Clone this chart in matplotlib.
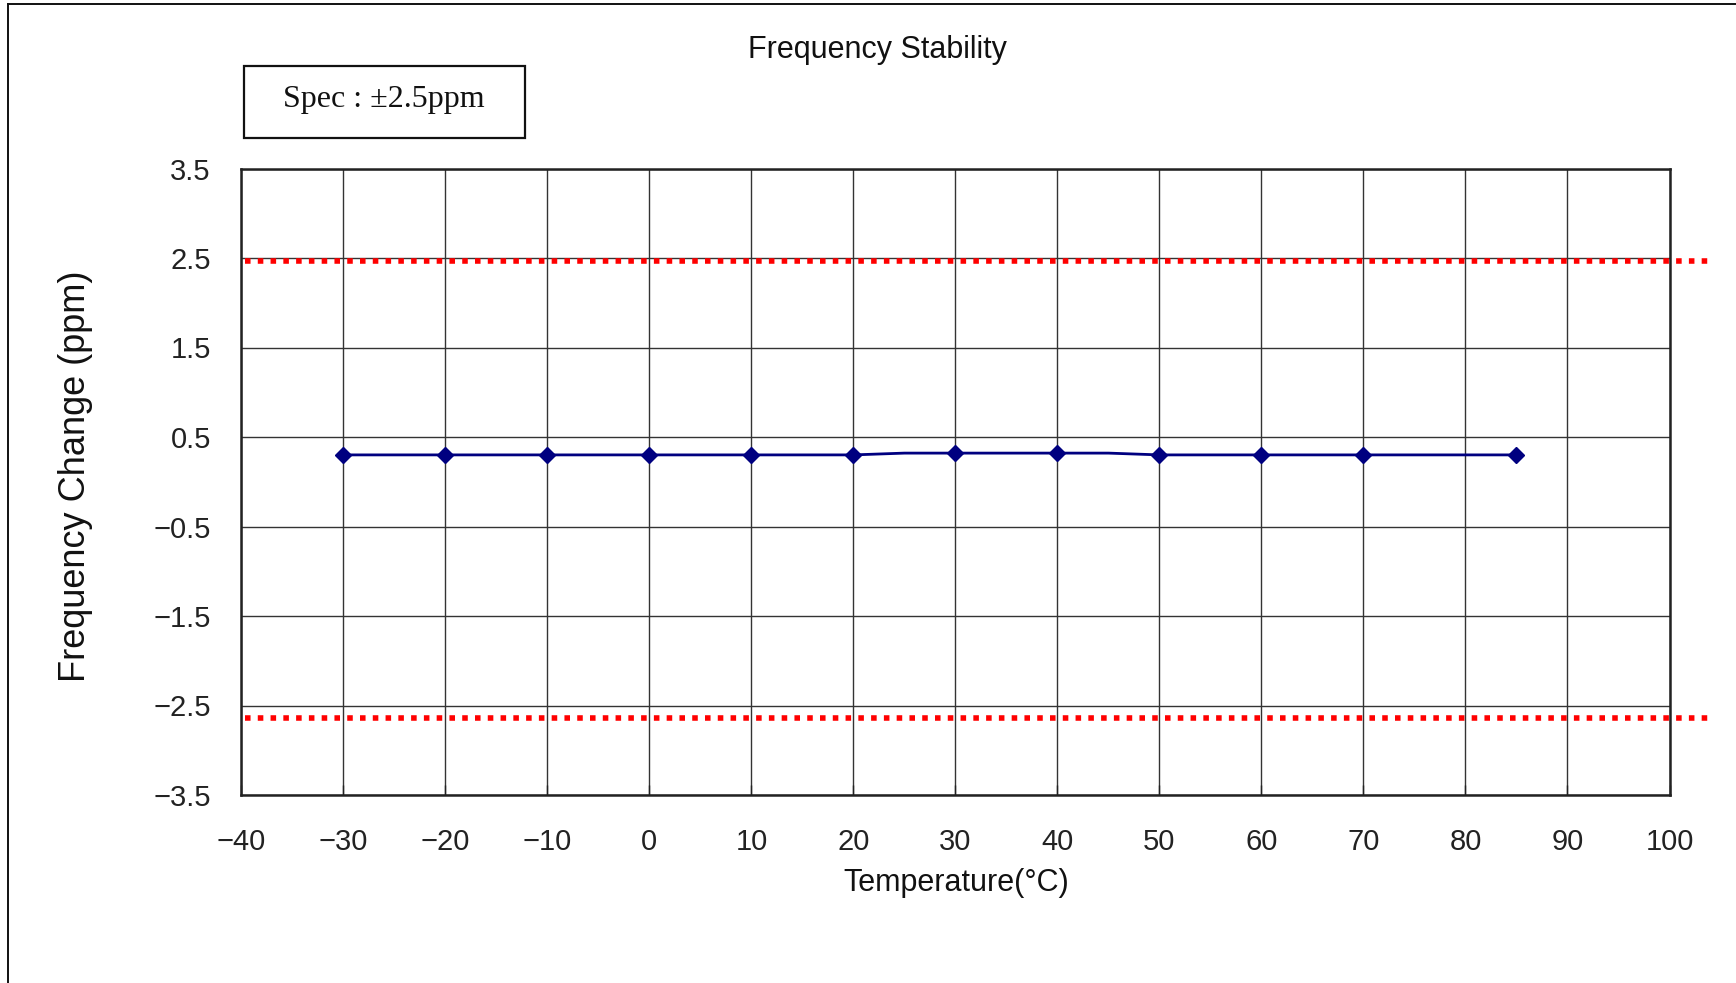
import matplotlib
matplotlib.use("Agg")
import matplotlib.pyplot as plt
from matplotlib.lines import Line2D
from matplotlib.patches import Rectangle

# data
temps = [-30, -20, -10, 0, 10, 20, 25, 30, 40, 45, 50, 60, 70, 85]
freq_change = [0.30, 0.30, 0.30, 0.30, 0.30, 0.30, 0.32, 0.32, 0.32, 0.32,
               0.30, 0.30, 0.30, 0.30]
marker_idx = [0, 1, 2, 3, 4, 5, 7, 8, 10, 11, 12, 13]
spec_limits = [2.47, -2.64]
x_ticks = list(range(-40, 101, 10))
y_ticks = [-3.5, -2.5, -1.5, -0.5, 0.5, 1.5, 2.5, 3.5]

W, H = 1736, 983
sans = ["Liberation Sans Narrow", "Liberation Sans", "DejaVu Sans"]

fig = plt.figure(figsize=(W / 100, H / 100), dpi=100)
ax = fig.add_axes([241.4 / W, 1 - 795 / H, (1669.5 - 241.4) / W, (795 - 168.5) / H])

ax.set_xlim(-40, 100)
ax.set_ylim(-3.5, 3.5)
ax.set_xticks(x_ticks)
ax.set_yticks(y_ticks)
ax.set_xticklabels([f"{t:d}".replace("-", "\u2212") for t in x_ticks],
                   family=sans, fontsize=21)
ax.set_yticklabels([f"{t:.1f}".replace("-", "\u2212") for t in y_ticks],
                   family=sans, fontsize=21)
ax.tick_params(axis="x", direction="in", length=7, width=1, pad=24, colors="#222222")
ax.tick_params(axis="y", direction="in", length=0, pad=22, colors="#222222")
ax.grid(True, color="#333333", linewidth=1.0)
ax.set_axisbelow(True)
for s in ax.spines.values():
    s.set_linewidth(1.8)
    s.set_color("#222222")

ax.plot(temps, freq_change, color="#000080", linewidth=2.0, marker="D",
        markersize=8.5, markevery=marker_idx, zorder=4)

for lim in spec_limits:
    ax.plot([-39.6, 104.2], [lim, lim], color="#ff0000", linewidth=4.0,
            linestyle=(0, (1.0, 1.3)), dash_capstyle="butt",
            clip_on=False, zorder=5)

fig.text(877 / W, 1 - 50 / H, "Frequency Stability", family=sans,
         fontsize=22, ha="center", va="center", color="#111111")
fig.text(956 / W, 1 - 883 / H, "Temperature(\u00b0C)", family=sans,
         fontsize=22, ha="center", va="center", color="#111111")
fig.text(76 / W, 1 - 476 / H, "Frequency Change (ppm)", family=sans,
         fontsize=26, ha="center", va="center", rotation=90, color="#111111")

# spec box
fig.add_artist(Rectangle((243.8 / W, 1 - 138.3 / H), (525 - 243.8) / W,
                         (138.3 - 66) / H, transform=fig.transFigure,
                         fill=False, edgecolor="#111111", linewidth=1.6))
fig.text(384 / W, 1 - 99 / H, "Spec : \u00b12.5ppm", family="Liberation Serif",
         fontsize=23, ha="center", va="center", color="#111111")

# outer chart frame (left and top edges visible)
fig.add_artist(Line2D([8.4 / W, 8.4 / W], [0, 1 - 4 / H], transform=fig.transFigure,
                      color="#111111", linewidth=1.4))
fig.add_artist(Line2D([8.4 / W, 1], [1 - 4 / H, 1 - 4 / H], transform=fig.transFigure,
                      color="#111111", linewidth=1.4))

fig.savefig("out.png", dpi=100)
